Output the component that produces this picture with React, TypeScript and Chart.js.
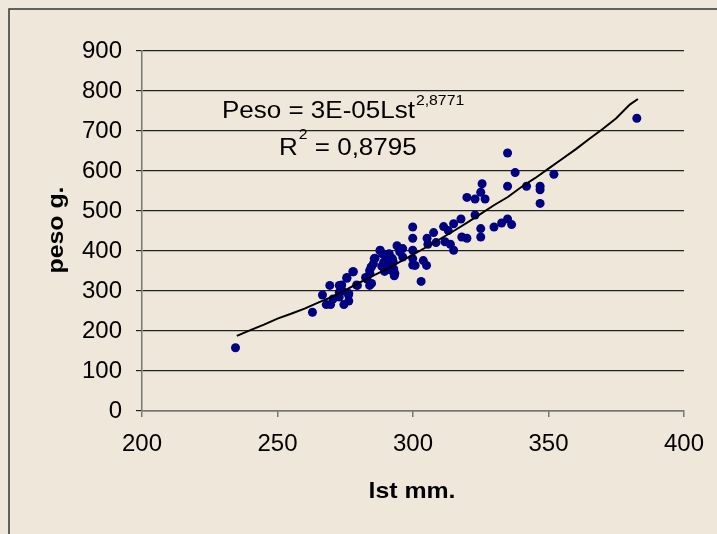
import React, { useEffect, useRef } from "react";
import { Chart, registerables } from "chart.js";

Chart.register(...registerables);

const lstValues: number[] = [
  234.5, 262.9, 266.6, 268.0, 269.6, 269.3, 272.8, 272.8, 272.8, 274.5,
  275.6, 276.3, 276.3, 277.8, 279.5, 282.5, 284.0, 284.0, 284.5, 285.7,
  285.4, 287.9, 288.7, 289.2, 289.5, 290.4, 291.2, 291.7, 292.4, 292.9,
  293.1, 294.1, 295.1, 296.2, 296.2, 299.9, 299.9, 299.9, 299.9, 299.9,
  300.8, 303.0, 303.8, 305.0, 305.2, 305.5, 307.6, 308.5, 311.3, 311.8,
  313.0, 313.8, 315.0, 315.0, 317.7, 318.0, 319.9, 319.9, 322.9, 322.9,
  325.0, 325.5, 325.0, 325.0, 326.6, 329.9, 332.7, 334.9, 334.9, 334.9,
  336.4, 337.7, 341.9, 346.9, 346.9, 346.9, 352.0, 382.6,
  287.8, 286.0, 289.6, 291.5, 290.8, 292.7, 292.0, 293.3, 284.7, 284.1,
  278.0, 275.6, 279.2, 284.7, 273.7, 276.2, 283.0, 270.5, 274.0, 288.5
];
const pesoValues: number[] = [
  158, 247, 290, 266, 266, 314, 314, 297, 285, 266,
  334, 294, 275, 348, 314, 334, 314, 351, 359, 381,
  368, 402, 393, 372, 349, 376, 393, 364, 381, 355,
  338, 413, 398, 406, 385, 460, 432, 402, 381, 365,
  364, 324, 376, 364, 432, 417, 446, 421, 461, 423,
  451, 417, 402, 468, 480, 435, 534, 432, 530, 490,
  547, 568, 456, 435, 530, 460, 470, 645, 562, 480,
  466, 596, 562, 562, 553, 519, 592, 732,
  401, 382, 390, 386, 369, 373, 352, 344, 361, 344,
  348, 332, 315, 319, 315, 290, 330, 280, 300, 362
];

const trendLst: number[] = [
  235, 240, 245, 250, 255, 260, 265, 270, 275, 280, 285, 290, 295, 300,
  305, 310, 315, 320, 325, 330, 335, 340, 345, 350, 355, 360, 365, 370,
  375, 380, 383
];
const trendPeso: number[] = [
  188, 202, 216, 231, 243, 256, 271, 285, 302, 320, 337, 354, 372, 391,
  410, 430, 450, 471, 493, 515, 535, 560, 582, 606, 630, 654, 680, 705,
  732, 766, 780
];

const xTicks: number[] = [200, 250, 300, 350, 400];
const yTicks: number[] = [0, 100, 200, 300, 400, 500, 600, 700, 800, 900];

const equationText = "Peso = 3E-05Lst";
const equationExp = "2,8771";
const r2Base = "R";
const r2Exp = "2";
const r2Rest = " = 0,8795";
const xTitle = "lst mm.";
const yTitle = "peso g.";

const BG = "#EFE8DA";
const FONT = "'Liberation Sans', Arial, sans-serif";
const SX = 1.13;

function drawText(ctx: any, text: string, x: number, y: number, font: string, align: string = "left") {
  ctx.save();
  ctx.font = font;
  ctx.textAlign = align;
  ctx.translate(x, y);
  ctx.scale(SX, 1);
  ctx.fillText(text, 0, 0);
  const w = ctx.measureText(text).width * SX;
  ctx.restore();
  return w;
}

const decorPlugin = {
  id: "decor",
  beforeDraw(chart: any) {
    const ctx = chart.ctx;
    ctx.save();
    ctx.fillStyle = BG;
    ctx.fillRect(0, 0, chart.width, chart.height);
    ctx.strokeStyle = "#333333";
    ctx.lineWidth = 1.5;
    ctx.beginPath();
    ctx.moveTo(9, chart.height);
    ctx.lineTo(9, 9);
    ctx.lineTo(chart.width, 9);
    ctx.stroke();
    ctx.restore();
  },
  afterDraw(chart: any) {
    const ctx = chart.ctx;
    const area = chart.chartArea;
    ctx.save();
    ctx.fillStyle = "#000";
    ctx.textBaseline = "middle";
    // axis titles
    drawText(ctx, xTitle, (area.left + area.right) / 2 - 1, 492, `bold 22px ${FONT}`, "center");
    ctx.save();
    ctx.translate(57, 230);
    ctx.rotate(-Math.PI / 2);
    drawText(ctx, yTitle, 0, 0, `bold 22px ${FONT}`, "center");
    ctx.restore();

    // equation annotation
    ctx.textBaseline = "alphabetic";
    const x1 = 222;
    const w1 = drawText(ctx, equationText, x1, 118, `23px ${FONT}`);
    drawText(ctx, equationExp, x1 + w1 + 1, 105, `14px ${FONT}`);

    const x2 = 279;
    const wR = drawText(ctx, r2Base, x2, 155, `23px ${FONT}`);
    const wE = drawText(ctx, r2Exp, x2 + wR + 1, 139, `14px ${FONT}`);
    drawText(ctx, r2Rest, x2 + wR + wE + 1, 155, `23px ${FONT}`);
    ctx.restore();
  },
};

export default function App() {
  const canvasRef = useRef<HTMLCanvasElement | null>(null);

  useEffect(() => {
    const canvas = canvasRef.current;
    if (!canvas) return;
    const points = lstValues.map((x, i) => ({ x, y: pesoValues[i] }));
    const trend = trendLst.map((x, i) => ({ x, y: trendPeso[i] }));

    const chart = new Chart(canvas, {
      type: "scatter",
      data: {
        datasets: [
          {
            type: "line",
            label: "trend",
            data: trend,
            borderColor: "#000000",
            borderWidth: 2,
            pointRadius: 0,
            fill: false,
            tension: 0,
          } as any,
          {
            label: "peso",
            data: points,
            backgroundColor: "#000080",
            borderWidth: 0,
            pointRadius: 4.5,
          },
        ],
      },
      plugins: [decorPlugin],
      options: {
        animation: false,
        responsive: false,
        maintainAspectRatio: false,
        layout: { padding: { top: 51, right: 29, left: 0, bottom: 0 } },
        plugins: {
          legend: { display: false },
          tooltip: { enabled: false },
          title: { display: false },
        },
        scales: {
          x: {
            type: "linear",
            min: xTicks[0],
            max: xTicks[xTicks.length - 1],
            afterBuildTicks: (scale: any) => {
              scale.ticks = xTicks.map((v) => ({ value: v }));
            },
            afterFit: (scale: any) => {
              scale.height = 123;
            },
            ticks: {
              color: "#000",
              font: { family: FONT, size: 24 },
              padding: 13,
              maxRotation: 0,
            },
            grid: {
              display: true,
              drawOnChartArea: false,
              drawTicks: true,
              tickLength: 6,
              color: "#777777",
              lineWidth: 1.5,
            },
            border: { display: true, color: "#777777", width: 1.5 },
          },
          y: {
            type: "linear",
            min: yTicks[0],
            max: yTicks[yTicks.length - 1],
            afterBuildTicks: (scale: any) => {
              scale.ticks = yTicks.map((v) => ({ value: v }));
            },
            afterFit: (scale: any) => {
              scale.width = 142;
            },
            ticks: {
              color: "#000",
              font: { family: FONT, size: 24 },
              padding: 14,
            },
            grid: {
              display: true,
              drawTicks: true,
              tickLength: 6,
              color: "#222222",
              lineWidth: 1.2,
            },
            border: { display: true, color: "#777777", width: 1.5 },
          },
        },
      },
    } as any);
    return () => chart.destroy();
  }, []);

  return (
    <div style={{ position: "fixed", left: 0, top: 0, width: 717, height: 534, background: BG }}>
      <canvas ref={canvasRef} width={717} height={534} style={{ display: "block" }} />
    </div>
  );
}
